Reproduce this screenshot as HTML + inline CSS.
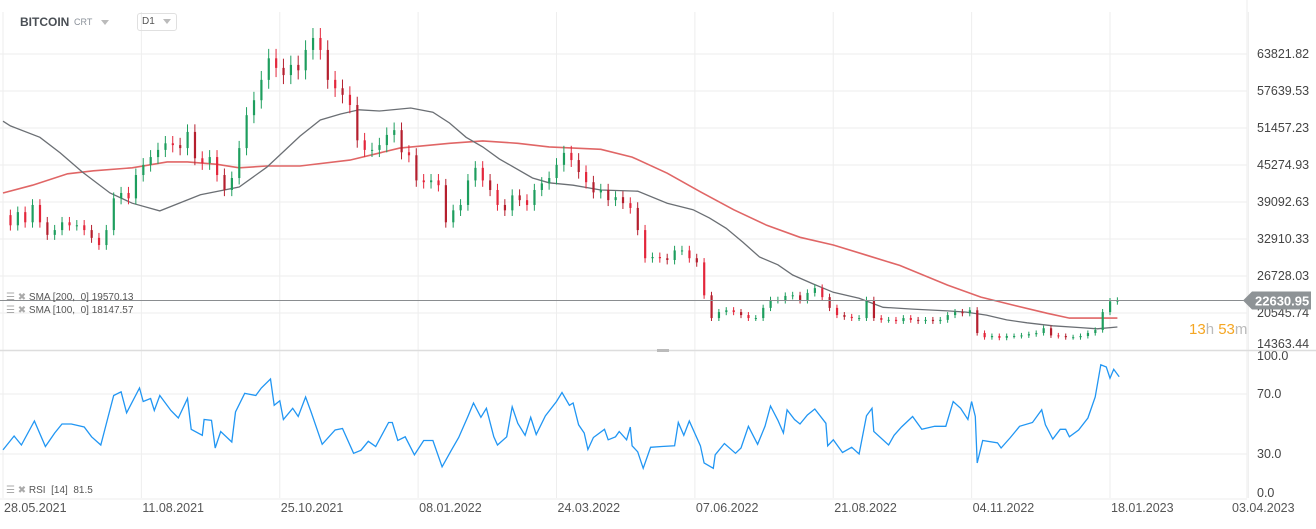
<!DOCTYPE html>
<html><head><meta charset="utf-8"><style>
body{margin:0;background:#fff;width:1316px;height:524px;overflow:hidden;font-family:"Liberation Sans",sans-serif}
svg text{font-family:"Liberation Sans",sans-serif}
</style></head><body>
<svg id="c" width="1316" height="524" xmlns="http://www.w3.org/2000/svg">
<g id="grid"></g>
<g id="sma"></g>
<g id="candles"></g>
<g id="rsi"></g>
<g id="axes"></g>
</svg>
<script>
const closes=[36.9,35.2,37.4,35.7,38.6,35.7,33.6,34.4,35.7,35.2,35.2,34.4,33.1,31.9,34.4,39.7,40.6,39.7,43.6,45.3,46.6,47.8,48.9,48.6,48.1,50.8,46.4,45.6,46.6,43.6,41.1,43.1,48.1,53.6,56.1,59.5,63.1,61.5,60.3,62.0,61.1,64.5,66.5,64.5,59.5,58.1,57.0,55.3,49.4,47.8,47.8,48.6,50.3,51.1,47.4,46.9,42.7,42.4,42.7,41.9,35.7,37.7,38.6,42.7,44.8,42.7,41.1,38.6,37.7,40.2,39.4,38.6,41.1,42.2,43.1,45.3,47.3,46.1,44.1,42.4,40.7,41.1,39.4,39.9,38.9,38.1,34.4,29.7,29.9,29.7,29.4,31.0,31.0,29.7,29.0,23.5,19.7,20.7,21.0,20.7,20.2,19.7,19.7,21.4,22.7,22.7,23.4,23.5,22.7,23.9,24.7,23.2,21.4,20.2,19.9,19.7,19.7,22.7,19.7,19.4,19.4,19.2,19.7,19.4,19.2,19.4,19.2,19.4,20.2,20.7,20.5,21.0,17.2,16.5,16.7,16.4,16.7,16.7,16.8,17.0,17.2,18.0,16.8,16.7,16.5,16.5,16.7,17.2,17.7,20.7,22.5,22.6];
const candleStepDays=4;
const sma100Days=[0,4,20,31,43,58,70,85,107,128,143,161,172,183,193,204,221,233,242,251,260,269,287,296,309,324,344,360,374,383,392,401,410,420,428,439,450,464,477,493,512,522,533,544,555,569,584,593,604];
const sma100Vals=[52.6,51.8,49.9,47.3,44.1,40.6,38.9,37.6,40.3,41.6,44.9,50.1,52.8,53.8,54.5,54.3,54.8,54.1,52.3,49.9,48.3,46.3,43.1,42.3,41.9,41.1,40.9,38.9,37.8,36.4,34.7,32.4,29.9,28.6,26.9,25.4,24.0,23.0,21.5,21.2,20.9,20.7,20.2,19.4,18.9,18.4,18.1,17.9,18.2];
const sma200Days=[0,16,35,49,70,89,100,116,128,143,161,188,215,242,260,279,296,324,341,360,378,396,414,432,450,468,486,512,530,547,566,578,604];
const sma200Vals=[40.6,41.9,43.8,44.3,44.8,45.8,45.8,45.4,44.8,45.1,45.1,46.1,48.1,48.9,49.3,48.9,48.3,47.9,46.6,43.9,40.8,37.8,35.2,33.2,31.9,30.2,28.5,25.2,23.2,21.9,20.5,19.7,19.7];
const rsiDays=[0,6,10,17,23,28,32,37,44,48,53,57,60,64,67,74,76,80,82,85,91,95,100,102,108,109,113,115,118,124,126,131,137,140,145,147,150,152,157,160,164,167,173,180,184,190,194,198,202,209,211,214,218,223,228,233,238,243,247,252,255,259,262,266,268,273,276,279,283,286,289,294,300,303,307,309,312,315,317,320,326,328,332,334,338,340,341,344,347,351,357,364,366,369,372,378,380,385,386,391,397,400,404,409,413,416,420,423,425,429,432,436,440,446,447,450,455,460,464,468,471,472,480,483,487,493,498,505,511,515,519,523,525,527,528,531,539,541,546,551,558,563,565,569,573,576,578,583,588,592,595,598,600,602,605];
const rsiVals=[32.7,42,36,52,35,44,50,50,48,41.5,36,55,69,71.5,57.5,74,65,67,59,69,59,54,67,46.5,42.5,53,52.5,34,45,38,58,70.5,69,74,80,62.5,65.5,53,60.5,55,68,58,36.5,46,47,30.5,32.5,38.5,35,51,51,39,41.5,29.5,39,39,21.5,32.5,41,55,64,54.5,60.5,41.5,36,41.5,61.5,50.5,42.5,54.5,43,55.5,65,71,62.5,64,49.5,44,33,41,46.5,39.5,41.5,45,39.5,48,35.5,31.5,20.5,34.5,35,35.5,51,42.5,52,35.5,24,20.5,29.5,37,30.5,34,48.5,36.5,48.5,62,52.5,44,59.5,53,50,56,60,50.5,35.5,39.5,31,34.5,30,55.5,60.5,45,36,42.5,48,55,46.5,48.5,48.5,65,60.5,53,65,55,24,39,37.5,34,41,48.5,51,59.5,49.5,40,46.5,46.5,41.5,46,54,68,89.5,88,80.5,86.5,81.5];
const priceTicks=[63821.82,57639.53,51457.23,45274.93,39092.63,32910.33,26728.03,20545.74,14363.44];
const rsiTicks=[100,70,30,0];
const dateTicks=["28.05.2021","11.08.2021","25.10.2021","08.01.2022","24.03.2022","07.06.2022","21.08.2022","04.11.2022","18.01.2023","03.04.2023"];
const dateTickDays=[0,75,150,225,300,375,450,525,600,675];
const lastPrice=22630.95;

const NS="http://www.w3.org/2000/svg";
function mk(tag,attrs,parent){const e=document.createElementNS(NS,tag);for(const k in attrs)e.setAttribute(k,attrs[k]);parent.appendChild(e);return e;}
const X=d=>3+d*1.845;
const Y=pk=>54+(63.82182-pk)/6.1823*37;
const YP=p=>54+(63821.82-p)/6182.3*37;
const YR=v=>499-v*1.5;
const grid=document.getElementById('grid'),axes=document.getElementById('axes');

priceTicks.forEach((p,i)=>{const y=YP(p);if(i<priceTicks.length-1){const l=mk('line',{x1:0,x2:1247,y1:y,y2:y,stroke:'#eeeeee'},grid);

}
const t=mk('text',{x:1257,y:(i==priceTicks.length-1?348:y+4),'font-size':12.5,fill:'#444'},axes);t.textContent=p.toFixed(2);

});
dateTickDays.forEach((d,i)=>{const x=X(d);const l=mk('line',{x1:x,x2:x,y1:12,y2:498,stroke:'#eeeeee'},grid);


const t=mk('text',{x:(i==9?1232:x+1),y:512,'font-size':12.5,fill:'#555'},axes);t.textContent=dateTicks[i];

});
rsiTicks.forEach(v=>{const y=YR(v);if(v<100){const l=mk('line',{x1:0,x2:1247,y1:y,y2:y,stroke:'#eeeeee'},grid);

}
const t=mk('text',{x:1257,y:(v==100?360:v==0?497:y+4),'font-size':12.5,fill:'#444'},axes);t.textContent=v.toFixed(1);

});
mk('line',{x1:1247,x2:1247,y1:0,y2:498,stroke:'#eeeeee'},grid);
const sep=mk('line',{x1:0,x2:1316,y1:350.5,y2:350.5,stroke:'#dddddd','stroke-width':1.5},axes);


mk('rect',{x:657,y:349,width:12,height:3,fill:'#bbb'},axes);

const smaG=document.getElementById('sma');
function line(days,vals,color,w,name){let d='';days.forEach((dd,i)=>{d+=(i?'L':'M')+X(dd).toFixed(1)+','+Y(vals[i]).toFixed(1);});
const p=mk('path',{d:d,fill:'none',stroke:color,'stroke-width':w},smaG);

}
line(sma200Days,sma200Vals,'#e06666',1.6,'sma-200-line');
line(sma100Days,sma100Vals,'#6b6f74',1.3,'sma-100-line');

const cg=document.getElementById('candles');
closes.forEach((c,i)=>{if(i==0)return;const o=closes[i-1];const d=i*candleStepDays;const x=X(d);
const up=c>=o;const col=up?'#1e9e5e':(i%2?'#e3263b':'#b51f2e');
const hi=Math.max(o,c)*1.025,lo=Math.min(o,c)*0.975;
const w=mk('line',{x1:x,x2:x,y1:Y(hi),y2:Y(lo),stroke:col,'stroke-width':1},cg);


const top=Y(Math.max(o,c)),h=Math.max(1,Y(Math.min(o,c))-top);
const b=mk('rect',{x:x-1,y:top,width:2.2,height:h,fill:col},cg);

});

const ly=YP(lastPrice);
const pl=mk('line',{x1:0,x2:1245,y1:ly,y2:ly,stroke:'#8a8d90','stroke-width':1},axes);


const tag=mk('path',{d:`M1243,${ly} L1252,${ly-9} L1311,${ly-9} L1311,${ly+9} L1252,${ly+9} Z`,fill:'#8e9396'},axes);


const lt=mk('text',{x:1255,y:ly+5,'font-size':13,fill:'#fff','font-weight':'bold'},axes);lt.textContent=lastPrice.toFixed(2);



const rg=document.getElementById('rsi');let rd='';
rsiDays.forEach((d,i)=>{rd+=(i?'L':'M')+X(d).toFixed(1)+','+YR(rsiVals[i]).toFixed(1);});
const rp=mk('path',{d:rd,fill:'none',stroke:'#2196f3','stroke-width':1.3},rg);


</script>
<div style="position:absolute;left:0;top:0;width:1316px;height:524px;pointer-events:none">
<div style="position:absolute;left:20px;top:15px;font-size:12px;font-weight:bold;color:#4a4f55">BITCOIN</div>
<div style="position:absolute;left:74px;top:17px;font-size:9px;color:#8a9099">CRT <span style="display:inline-block;margin-left:6px;border-left:4px solid transparent;border-right:4px solid transparent;border-top:5px solid #bbb;vertical-align:middle"></span></div>
<div style="position:absolute;left:137px;top:13px;width:34px;height:16px;border:1px solid #e0e0e0;border-radius:3px;font-size:10px;color:#555;line-height:16px;padding-left:4px;box-sizing:content-box">D1 <span style="display:inline-block;margin-left:5px;border-left:4px solid transparent;border-right:4px solid transparent;border-top:5px solid #bbb;vertical-align:middle"></span></div>
<div style="position:absolute;left:6px;top:292px;font-size:10px;color:#555"><span style="color:#aaa">☰ ✖</span> SMA [200,&nbsp; 0] 19570.13</div>
<div style="position:absolute;left:6px;top:305px;font-size:10px;color:#555"><span style="color:#aaa">☰ ✖</span> SMA [100,&nbsp; 0] 18147.57</div>
<div style="position:absolute;left:6px;top:485px;font-size:10px;color:#555"><span style="color:#aaa">☰ ✖</span> RSI&nbsp; [14]&nbsp; 81.5</div>
<div style="position:absolute;left:1189px;top:321px;font-size:15px;color:#bbb"><span style="color:#f5a623">13</span>h <span style="color:#f5a623">53</span>m</div>
</div>
</body></html>
